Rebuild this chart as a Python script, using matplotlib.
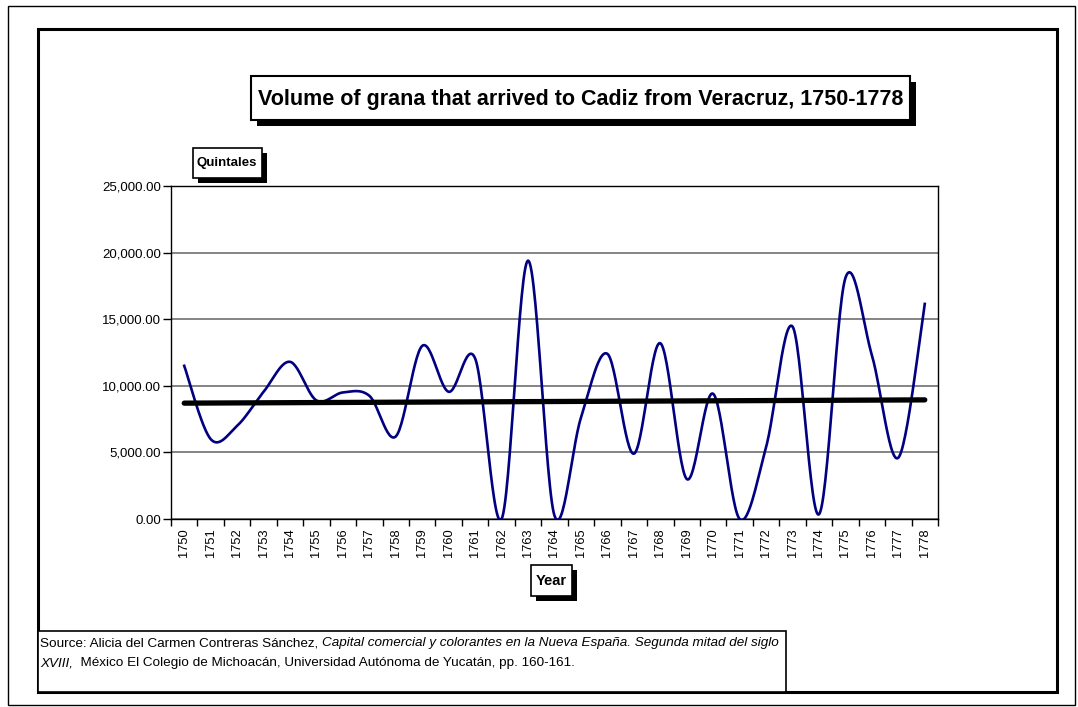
import numpy as np
import matplotlib
matplotlib.use('Agg')
from matplotlib import pyplot as plt
from matplotlib.patches import Rectangle

plt.rcParams['font.family'] = ['Liberation Sans', 'DejaVu Sans']

# data (quintales per year)
years = [str(y) for y in range(1750, 1779)]
quintales = [11500, 6000, 7000, 9550, 11800, 8900, 9500, 9250, 6200, 13000,
             9550, 12050, 0, 19400, 250, 7600, 12400, 4900, 13200, 3000,
             9400, 0, 5400, 14450, 350, 18100, 12300, 4600, 16150]
yticks = [0, 5000, 10000, 15000, 20000, 25000]

W, H = 1078, 707
fig = plt.figure(figsize=(W / 100, H / 100), dpi=100)


def fx(x):
    return x / W


def fy(y):
    return 1 - y / H


def box(x0, y0, x1, y1, lw=1.0, shadow=0, z=1):
    # white box with black border and optional drop shadow (pixel coords, top-left origin)
    if shadow:
        fig.add_artist(Rectangle((fx(x0 + shadow), fy(y1 + shadow)), fx(x1 - x0), (y1 - y0) / H,
                                 transform=fig.transFigure, facecolor='black', edgecolor='black',
                                 lw=0, zorder=z))
    fig.add_artist(Rectangle((fx(x0), fy(y1)), fx(x1 - x0), (y1 - y0) / H,
                             transform=fig.transFigure, facecolor='white', edgecolor='black',
                             lw=lw, zorder=z))


# frames
box(8, 6, 1075, 705, lw=1.0, z=-2)
box(38, 29, 1057, 692, lw=2.2, z=-1)

ax = fig.add_axes([fx(171), fy(519), fx(938 - 171), (519 - 186) / H])
ax.set_zorder(3)

# Excel-like smoothed line (cubic bezier through every point)
x = np.arange(len(quintales))
y = np.array(quintales, dtype=float)
px, py = [], []
t = np.linspace(0, 1, 30)
for i in range(len(x) - 1):
    p0 = np.array([x[max(i - 1, 0)], y[max(i - 1, 0)]])
    p1 = np.array([x[i], y[i]])
    p2 = np.array([x[i + 1], y[i + 1]])
    p3 = np.array([x[min(i + 2, len(x) - 1)], y[min(i + 2, len(x) - 1)]])
    c1 = p1 + (p2 - p0) / 6
    c2 = p2 - (p3 - p1) / 6
    seg = ((1 - t) ** 3)[:, None] * p1 + (3 * (1 - t) ** 2 * t)[:, None] * c1 \
        + (3 * (1 - t) * t ** 2)[:, None] * c2 + (t ** 3)[:, None] * p2
    px.extend(seg[:, 0])
    py.extend(seg[:, 1])

ax.plot(px, py, color='#000080', lw=1.9, zorder=3)

# linear trend
k, b = np.polyfit(x, y, 1)
ax.plot([x[0], x[-1]], [k * x[0] + b, k * x[-1] + b], color='black', lw=3.8,
        solid_capstyle='round', zorder=4)

ax.set_xlim(-0.5, len(years) - 0.5)
ax.set_ylim(0, 25000)
ax.set_yticks(yticks)
ax.set_yticklabels(['{:,.2f}'.format(v) for v in yticks], fontsize=9.5)
ax.set_xticks(np.arange(-0.5, len(years)), labels=[])
ax.set_xticks(x, labels=years, minor=True, rotation=90, fontsize=9.3)
ax.tick_params(axis='x', which='major', length=5, direction='out', width=1)
ax.tick_params(axis='x', which='minor', length=0, pad=6.5)
ax.tick_params(axis='y', length=6, direction='out', width=1, pad=1)
ax.yaxis.grid(True, color='#707070', lw=1.2)
ax.set_axisbelow(True)
for s in ax.spines.values():
    s.set_linewidth(1.0)

# title and axis label boxes
box(251, 76, 910, 120, lw=1.5, shadow=6)
fig.text(fx(581), fy(99), 'Volume of grana that arrived to Cadiz from Veracruz, 1750-1778',
         ha='center', va='center', fontsize=15.5, fontweight='bold')
box(193, 148, 262, 178, lw=1.2, shadow=5)
fig.text(fx(227), fy(163), 'Quintales', ha='center', va='center', fontsize=9.5, fontweight='bold')
box(531, 565, 572, 596, lw=1.2, shadow=5)
fig.text(fx(551.5), fy(581), 'Year', ha='center', va='center', fontsize=10.5, fontweight='bold')

# source note with mixed italic
box(38, 631, 786, 692, lw=1.2)
renderer = fig.canvas.get_renderer()


def run(parts, x0, yy):
    xx = x0
    for txt, style in parts:
        t_ = fig.text(fx(xx), fy(yy), txt, ha='left', va='center', fontsize=9.7, style=style)
        bb = t_.get_window_extent(renderer)
        xx += bb.width


run([('Source: Alicia del Carmen Contreras Sánchez, ', 'normal'),
     ('Capital comercial y colorantes en la Nueva España. Segunda mitad del siglo', 'italic')], 40, 643)
run([('XVIII,', 'italic'),
     ('  México El Colegio de Michoacán, Universidad Autónoma de Yucatán, pp. 160-161.', 'normal')], 40, 663)

fig.savefig('out.png', dpi=100)
